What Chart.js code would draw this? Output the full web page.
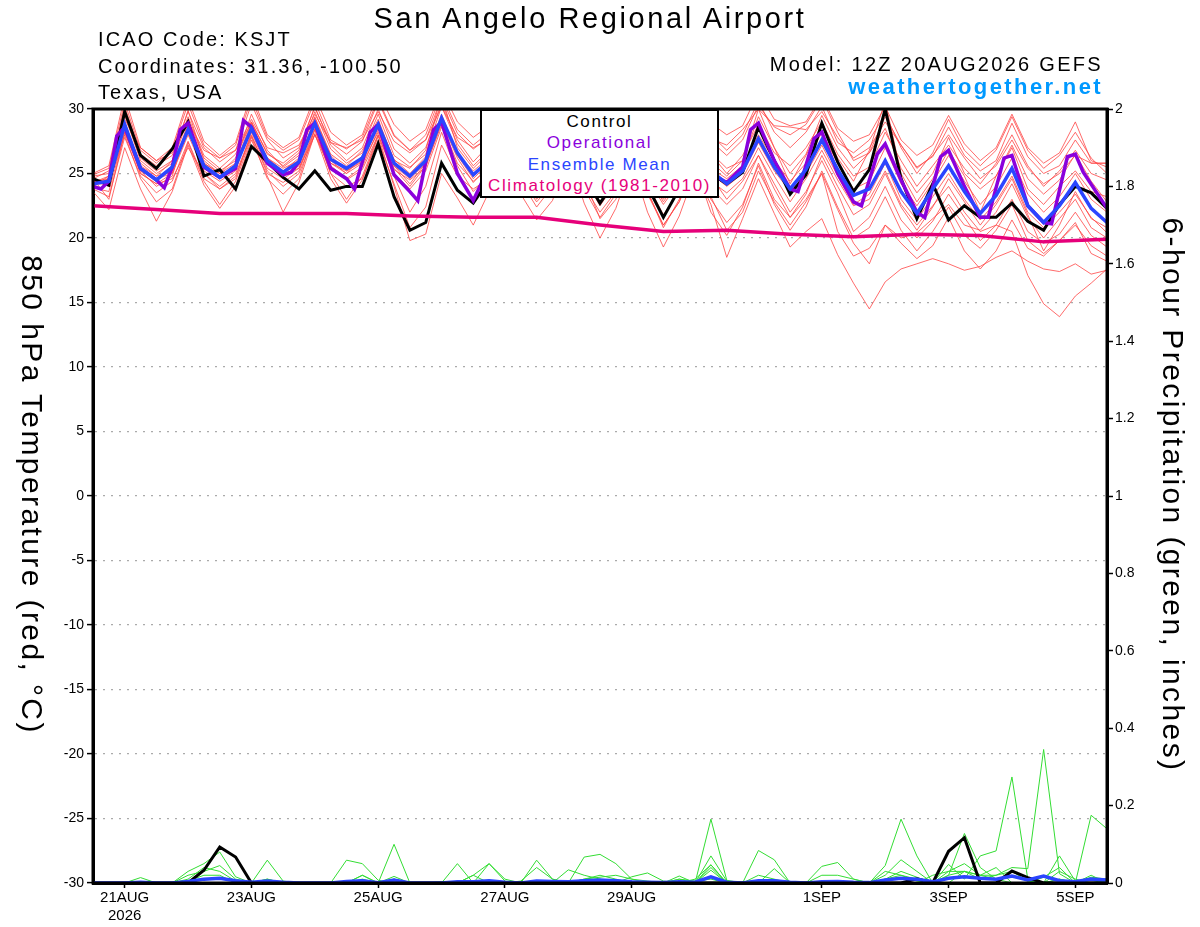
<!DOCTYPE html>
<html>
<head>
<meta charset="utf-8">
<script src="https://cdn.jsdelivr.net/npm/chart.js@4.4.1/dist/chart.umd.min.js"></script>
<style>
  body { margin: 0; background: #fff; }
  #wrap { position: relative; width: 1200px; height: 927px; font-family: 'Liberation Sans', Arial, Helvetica, sans-serif; color: #000; }
  #chart { position: absolute; left: 0; top: 0; }
  .txt { position: absolute; white-space: nowrap; }
  #title { left: 290px; width: 600px; top: 4px; font-size: 29px; line-height: 29px; letter-spacing: 2.6px; text-align: center; }
  #station { left: 98px; top: 26px; font-size: 20px; line-height: 26.6px; letter-spacing: 2.1px; }
  #model { right: 97px; top: 54px; font-size: 20px; line-height: 20px; letter-spacing: 2.3px; text-align: right; }
  #site { right: 97px; top: 76px; font-size: 22px; line-height: 22px; letter-spacing: 2.4px; font-weight: bold; color: #0099ff; text-align: right; }
  #legend { position: absolute; left: 480px; top: 109px; width: 239px; height: 89px; box-sizing: border-box; border: 2px solid #000; background: #fff; text-align: center; font-size: 17px; line-height: 21.4px; letter-spacing: 1.6px; }
  .ytitle { position: absolute; width: 600px; height: 30px; font-size: 30px; line-height: 30px; letter-spacing: 2.4px; text-align: center; white-space: nowrap; transform: rotate(90deg); transform-origin: 50% 50%; }
</style>
</head>
<body>
<div id="wrap">
  <canvas id="chart" width="1200" height="927"></canvas>
  <div class="txt" id="title">San Angelo Regional Airport</div>
  <div class="txt" id="station">ICAO Code: KSJT<br>Coordinates: 31.36, -100.50<br>Texas, USA</div>
  <div class="txt" id="model">Model: 12Z 20AUG2026 GEFS</div>
  <div class="txt" id="site">weathertogether.net</div>
  <div id="legend">
    <div style="color:#000">Control</div>
    <div style="color:#8a00dc">Operational</div>
    <div style="color:#2b45ff">Ensemble Mean</div>
    <div style="color:#e6007a">Climatology (1981-2010)</div>
  </div>
  <div class="ytitle" style="left:-268px; top:480px;">850 hPa Temperature (red, °C)</div>
  <div class="ytitle" style="left:873px; top:480px;">6-hour Precipitation (green, inches)</div>
</div>
<script>
// forecast hours after 12Z 20AUG2026 (6-hourly)
const hours = [0,6,12,18,24,30,36,42,48,54,60,66,72,78,84,90,96,102,108,114,120,126,132,138,144,150,156,162,168,174,180,186,192,198,204,210,216,222,228,234,240,246,252,258,264,270,276,282,288,294,300,306,312,318,324,330,336,342,348,354,360,366,372,378,384];

// x axis day labels (00Z of each labelled day)
const tickHours = [12, 60, 108, 156, 204, 276, 324, 372];
const tickLabels = [['21AUG', '2026'], '23AUG', '25AUG', '27AUG', '29AUG', '1SEP', '3SEP', '5SEP'];

// 850 hPa temperature, deg C
const controlTemp = [24.6,24.1,29.8,26.4, 25.4,26.9,29.0,24.8, 25.3,23.8,27.1,25.9, 24.7,23.8,25.2,23.7, 24.0,24.0,27.3,23.2, 20.6,21.2,25.8,23.7, 22.7,24.5,27.8,25.0, 23.5,24.5,27.5,24.8, 22.7,24.5,27.2,24.0, 21.6,23.8,27.5,25.0, 24.2,25.1,28.6,26.0, 23.4,24.9,28.9,25.9, 23.6,25.3,30.0,24.6, 21.5,24.2,21.4,22.5, 21.6,21.6,22.7,21.3, 20.6,22.6,24.0,23.5, 22.3];
const meanTemp = [24.2,24.4,28.8,25.4, 24.5,25.5,28.4,25.6, 24.7,25.6,28.5,26.0, 25.1,25.9,28.9,26.1, 25.4,26.2,28.8,25.8, 24.8,26.0,29.3,26.6, 24.9,26.0,28.6,26.0, 24.5,25.5,28.6,25.8, 24.0,25.5,28.2,25.3, 23.5,25.0,27.8,25.2, 24.2,25.2,27.7,25.5, 23.8,25.3,27.6,25.3, 23.3,23.8,26.0,23.6, 21.9,23.8,25.6,23.6, 21.9,23.3,25.4,22.5, 21.2,22.5,24.3,22.3, 21.2];

// operational run (3-hourly where visible)
const opHours = [0,3,6,9,12,18,24,27,30,33,36,42,48,54,57,60,66,72,75,78,81,84,90,96,99,102,105,108,114,120,123,126,129,132,138,144,150,153,156,162,168,174,177,180,186,192,198,201,204,210,216,222,225,228,234,240,246,249,252,258,264,267,273,276,282,288,291,297,300,306,312,315,321,324,330,336,339,345,348,354,360,363,369,372,375,384];
const opTemp = [24.0,23.8,24.4,27.9,28.6,25.4,24.5,23.9,25.5,28.4,28.9,25.5,24.7,25.4,29.1,28.6,25.8,24.9,25.1,25.9,28.4,28.9,25.4,24.6,23.8,25.9,28.2,28.8,24.9,23.6,22.9,25.9,28.4,29.0,25.0,22.9,25.5,28.5,29.2,26.0,24.2,25.5,29.0,30.0,26.0,24.0,25.5,28.0,28.8,25.0,23.5,25.0,27.5,28.0,25.0,24.3,25.5,28.4,28.9,26.0,23.8,23.6,27.7,28.2,25.0,22.8,22.5,26.5,27.3,24.5,22.0,21.6,26.3,26.8,24.0,21.6,21.6,26.2,26.4,22.5,21.2,21.1,26.3,26.5,25.1,22.3];

// 1981-2010 climatology (daily)
const climHours = [0,24,48,72,96,120,144,168,192,216,240,264,288,312,336,360,384];
const climTemp = [22.5,22.2,21.9,21.9,21.9,21.7,21.6,21.6,21.0,20.5,20.6,20.3,20.1,20.3,20.2,19.7,19.9];

// ensemble members
const member01 = [24.8,25.0,30.2,26.5, 25.6,26.4,29.8,27.0, 25.9,26.8,30.4,27.6, 26.2,27.0,30.1,27.4, 26.5,27.5,30.6,27.9, 26.8,27.6,30.9,28.1, 26.9,27.8,31.0,28.3, 26.6,27.2,30.5,28.0, 26.1,27.0,30.2,27.6, 25.8,26.9,29.9,27.5, 26.4,27.6,30.3,28.6, 28.0,28.8,30.8,28.2, 26.0,26.6,29.4,27.2, 25.5,26.3,28.6,26.4, 25.2,26.0,28.9,26.3, 25.0,25.6,27.6,25.8, 25.8];
const member02 = [23.6,22.2,27.0,23.8, 21.3,23.6,27.2,24.1, 22.3,24.0,27.6,24.8, 22.0,24.3,28.1,24.6, 22.7,24.5,27.9,24.0, 19.8,20.3,25.0,23.1, 21.0,23.6,26.8,23.4, 21.4,22.9,26.5,22.7, 20.0,22.3,25.9,22.0, 19.3,21.7,25.1,22.6, 18.5,21.5,24.6,21.9, 19.3,20.5,21.5,18.7, 16.5,14.5,16.6,17.6, 18.0,18.4,18.0,17.5, 17.8,18.5,19.0,18.2, 17.6,17.4,18.0,17.2, 17.5];
const member03 = [24.0,24.6,28.5,25.0, 24.2,25.0,28.0,25.2, 24.4,25.2,28.8,25.7, 25.0,25.4,28.5,25.8, 25.0,25.8,28.2,25.3, 24.5,25.5,29.0,26.2, 24.3,25.6,28.0,25.5, 24.0,25.0,28.0,25.0, 23.4,24.8,27.5,24.6, 22.6,24.3,27.0,24.4, 23.5,24.6,27.0,24.8, 22.8,24.6,26.8,24.5, 22.5,23.0,25.2,22.6, 21.0,22.5,24.0,22.0, 20.5,21.0,20.5,17.1, 14.9,13.9,15.5,16.5, 17.6];
const member04 = [24.5,24.0,29.5,26.0, 25.0,25.8,29.2,26.2, 25.2,26.0,29.6,26.8, 25.5,26.4,29.8,26.9, 25.8,26.6,29.6,26.4, 25.5,26.5,30.2,27.3, 25.6,26.8,29.8,26.8, 25.3,26.3,29.7,26.8, 24.9,26.4,29.3,26.4, 24.6,26.0,29.0,26.6, 25.4,26.0,29.4,27.0, 25.0,26.5,29.5,27.0, 25.4,26.6,28.5,25.4, 23.5,25.0,27.8,25.0, 23.8,24.8,27.2,24.6, 23.4,24.5,26.5,24.4, 22.8];
const member05 = [23.8,23.2,27.8,24.8, 23.5,24.4,27.5,24.6, 23.8,24.8,27.9,25.2, 24.0,25.0,28.0,25.3, 24.5,25.3,28.0,25.0, 23.8,25.2,28.6,25.6, 23.6,24.9,27.8,25.2, 23.0,24.5,27.4,24.6, 22.5,24.3,27.2,24.2, 21.8,23.6,26.6,23.9, 22.6,23.8,26.4,24.2, 22.0,23.6,26.0,23.5, 20.5,21.6,24.0,21.4, 20.0,21.3,23.4,21.6, 19.8,21.0,23.0,20.5, 19.6,20.3,22.0,20.2, 19.3];
const member06 = [25.0,25.6,31.0,27.0, 26.0,27.0,30.8,27.5, 26.4,27.4,31.2,28.0, 27.0,27.8,31.0,28.2, 27.2,28.0,31.3,28.8, 27.5,28.4,31.5,29.0, 27.8,28.7,31.4,29.0, 27.2,28.6,31.2,28.8, 27.0,28.5,31.0,28.6, 27.3,28.8,31.0,28.9, 28.0,28.7,31.3,29.2, 28.7,29.0,31.0,28.5, 27.5,28.0,30.2,27.6, 26.4,27.2,29.5,27.3, 26.0,27.0,29.6,27.0, 25.8,26.6,29.0,26.0, 25.5];
const member07 = [24.3,24.8,29.0,25.6, 24.8,25.2,28.6,25.4, 24.6,25.6,28.4,26.2, 25.4,26.0,29.3,26.4, 25.2,26.0,29.0,26.1, 25.0,26.3,29.6,26.5, 25.2,26.2,28.9,26.3, 24.8,25.8,28.8,26.1, 24.2,25.7,28.5,25.6, 23.6,25.2,28.0,25.4, 24.6,25.6,28.0,26.0, 24.4,25.8,28.2,25.8, 23.8,24.4,27.0,24.2, 22.5,24.3,26.4,24.4, 22.6,24.0,26.2,23.4, 22.0,23.2,25.0,23.0, 22.0];
const member08 = [24.6,23.0,28.2,25.2, 24.0,24.8,28.8,25.0, 24.0,25.0,28.0,25.0, 24.3,25.2,28.4,25.0, 24.0,24.6,27.6,24.2, 20.8,22.4,27.2,24.8, 23.8,24.6,27.4,24.4, 22.4,24.0,27.0,24.0, 22.0,23.6,26.8,23.6, 21.0,22.8,26.0,23.2, 20.6,22.0,25.2,22.8, 21.0,22.8,25.0,22.2, 19.6,18.0,21.0,20.0, 20.4,21.5,22.6,21.0, 20.6,22.0,24.2,21.6, 20.0,21.5,23.0,20.8, 20.0];
const member09 = [24.0,24.8,28.6,25.8, 24.8,26.0,29.4,26.4, 25.4,26.5,29.0,26.5, 25.8,26.8,30.2,27.2, 26.0,27.0,30.0,26.9, 25.8,27.0,30.5,27.6, 25.9,27.2,30.0,27.2, 25.5,26.8,29.6,26.4, 25.0,26.6,29.8,26.8, 25.0,26.6,29.2,26.5, 25.0,26.4,28.8,26.6, 25.6,27.0,29.0,26.5, 24.8,25.5,28.2,26.0, 24.0,25.6,27.2,25.4, 24.2,25.8,28.0,25.6, 24.0,25.2,26.8,25.0, 24.5];
const member10 = [24.2,24.2,28.0,24.6, 22.8,23.8,27.4,24.4, 22.6,24.4,27.8,24.6, 23.4,24.6,28.4,25.0, 23.0,24.8,28.0,24.8, 22.0,24.0,28.2,25.0, 22.8,24.4,27.6,24.6, 22.8,24.2,27.0,23.8, 21.6,23.4,26.6,23.6, 20.8,23.0,26.0,23.0, 21.2,22.6,25.6,22.6, 20.6,22.4,25.2,22.4, 20.0,20.8,23.2,20.6, 19.0,20.5,22.4,20.2, 19.2,20.6,22.6,19.8, 18.8,19.8,21.0,19.4, 18.6];
const member11 = [24.4,24.6,29.2,27.0, 26.0,26.6,29.0,26.8, 26.2,26.8,29.2,27.0, 26.6,27.2,29.6,27.4, 27.0,27.6,29.8,27.5, 26.6,27.6,30.2,27.8, 27.0,27.7,29.6,27.4, 26.0,27.2,29.8,27.5, 26.4,27.5,30.0,27.8, 26.8,27.6,29.6,27.7, 27.2,28.4,30.0,28.7, 28.6,28.4,29.8,27.8, 26.2,27.0,29.0,27.2, 25.4,26.4,28.0,26.2, 24.6,25.6,27.6,25.4, 24.2,25.0,26.4,25.8, 25.8];
const member12 = [23.9,23.6,28.2,25.0, 24.2,24.6,27.0,25.0, 23.8,24.6,28.2,25.4, 24.6,25.4,28.0,25.6, 24.6,25.5,28.4,25.4, 24.0,25.6,28.8,25.8, 24.4,25.4,28.2,25.6, 23.8,25.0,28.2,25.4, 23.2,25.0,27.6,25.0, 22.8,24.6,27.4,24.8, 23.0,24.4,26.4,23.8, 21.6,23.4,26.4,24.0, 21.8,22.6,25.0,22.4, 20.6,22.4,24.6,22.8, 21.0,22.6,24.6,21.8, 19.0,21.0,23.6,21.5, 20.8];
const member13 = [24.6,25.2,29.8,26.2, 25.2,26.0,29.9,26.0, 25.0,26.2,29.0,26.6, 25.6,26.6,29.4,26.5, 25.6,26.8,29.2,26.0, 25.4,26.8,31.0,27.0, 25.4,26.6,29.4,26.6, 25.0,26.4,29.4,26.4, 24.6,26.0,29.0,25.8, 24.0,25.4,28.6,25.9, 24.8,26.0,30.0,27.0, 24.2,26.4,28.8,26.2, 24.4,26.8,30.6,25.0, 22.8,24.6,26.8,24.8, 22.0,24.8,27.0,23.8, 22.6,24.0,25.2,23.6, 23.2];
const member14 = [24.4,24.2,28.4,25.2, 24.6,25.2,28.2,25.8, 25.0,25.8,28.9,26.2, 25.2,26.2,29.0,26.0, 25.0,26.4,28.6,25.6, 24.2,25.8,29.4,26.4, 25.0,26.0,28.6,25.6, 23.6,25.2,27.8,24.6, 21.5,23.0,26.2,23.4, 21.0,22.8,25.6,22.0, 20.2,22.4,25.8,23.0, 21.6,23.0,25.0,20.5, 18.6,19.2,21.0,19.6, 18.4,19.4,21.6,19.0, 17.6,19.0,21.4,19.2, 18.6,19.8,21.2,18.8, 18.2];
const member15 = [24.9,25.4,30.5,26.8, 25.8,26.8,30.4,27.2, 26.2,27.2,30.8,27.8, 26.8,27.6,30.6,27.6, 26.9,27.8,30.8,28.0, 26.8,28.0,31.2,28.4, 27.2,28.2,30.8,28.2, 27.0,28.0,30.9,28.4, 27.4,28.4,30.4,27.6, 26.0,27.6,30.2,28.0, 26.8,28.0,30.6,28.2, 27.0,28.2,30.2,27.4, 26.6,27.6,29.6,27.0, 25.0,26.6,29.2,26.8, 25.6,26.8,29.4,26.8, 25.4,26.4,28.2,26.2, 25.0];
const member16 = [24.1,24.6,29.0,25.4, 24.6,25.0,29.0,25.8, 25.0,25.4,28.6,25.8, 24.8,25.6,28.8,25.8, 25.2,25.9,28.6,25.6, 24.6,25.8,29.2,26.4, 24.6,25.8,28.4,25.8, 24.2,25.4,28.6,25.6, 23.8,25.2,28.0,25.0, 23.0,24.8,27.6,25.0, 24.0,25.0,27.4,25.2, 23.6,25.0,27.2,24.8, 22.6,23.4,25.8,23.0, 21.4,23.2,25.0,23.0, 21.4,22.8,24.8,22.0, 20.8,22.0,23.4,21.6, 20.4];
const members = [member01, member02, member03, member04, member05, member06, member07, member08, member09, member10, member11, member12, member13, member14, member15, member16];

// 6-hour precipitation, inches
const controlPrecip = [0,0,0,0, 0,0,0,0.033, 0.093,0.067,0,0, 0,0,0,0, 0,0,0,0, 0,0,0,0, 0,0,0,0, 0,0,0,0, 0,0,0,0, 0,0,0,0, 0,0,0,0, 0,0,0,0, 0,0,0,0, 0.011,0,0.082,0.117, 0,0,0.031,0.014, 0,0,0,0, 0];
const meanPrecip = [0,0,0,0.002, 0,0,0.004,0.01, 0.012,0.006,0.002,0.005, 0.002,0,0,0, 0.004,0.006,0.001,0.008, 0,0,0,0.003, 0.003,0.006,0.002,0, 0.005,0.004,0.003,0.006, 0.008,0.006,0.003,0.002, 0.001,0.003,0.002,0.016, 0.002,0,0.006,0.006, 0.002,0,0.003,0.004, 0.002,0.001,0.008,0.012, 0.01,0.003,0.012,0.016, 0.012,0.01,0.018,0.008, 0.018,0.006,0.003,0.01, 0.008];
const precip01 = [0,0,0,0.014, 0,0,0.03,0.05, 0.08,0.016,0,0, 0,0,0,0, 0,0,0,0.017, 0,0,0,0, 0,0,0,0, 0.059,0.01,0,0, 0,0,0,0, 0,0,0,0.07, 0.005,0,0,0, 0,0,0,0, 0,0,0,0, 0,0,0.02,0.128, 0.04,0.01,0,0, 0,0.07,0.005,0, 0];
const precip02 = [0,0,0,0, 0,0,0.01,0.04, 0.03,0.005,0,0.059, 0.005,0,0,0, 0,0.02,0,0, 0,0,0,0, 0,0,0,0.005, 0.04,0.01,0,0, 0,0,0.016,0.026, 0.005,0,0,0.033, 0,0,0.084,0.06, 0,0,0,0, 0,0,0.01,0.03, 0.015,0,0,0.03, 0.02,0.01,0.015,0.01, 0,0.01,0,0.01, 0.005];
const precip03 = [0,0,0,0, 0,0,0.02,0.03, 0.045,0.01,0,0.01, 0,0,0,0, 0.059,0.05,0.007,0, 0,0,0,0, 0,0,0,0, 0,0,0.034,0.02, 0.01,0,0,0, 0,0.01,0,0.047, 0,0,0,0.037, 0,0,0.043,0.053, 0.01,0,0.02,0.06, 0.03,0,0.048,0.01, 0.07,0.083,0.274,0.01, 0,0.03,0.01,0, 0.01];
const precip04 = [0,0,0,0, 0,0,0,0, 0,0,0,0, 0,0,0,0, 0,0.02,0,0.1, 0,0,0,0, 0,0,0,0, 0,0,0,0.067, 0.074,0.05,0.01,0, 0,0,0,0.165, 0.007,0,0,0, 0,0,0,0, 0,0,0.045,0.165, 0.07,0,0,0, 0,0,0,0, 0,0,0,0.02, 0];
const precip05 = [0,0,0,0, 0,0,0,0, 0,0,0,0, 0,0,0,0, 0,0,0,0.01, 0,0,0,0.05, 0,0.05,0.01,0, 0,0,0,0.01, 0.02,0.01,0,0, 0,0,0.01,0.047, 0,0,0,0, 0,0,0,0, 0,0,0,0, 0,0.02,0.03,0.05, 0.02,0.02,0.04,0.037, 0.345,0.024,0,0.01, 0];
const precip06 = [0,0,0,0, 0,0,0,0, 0,0,0,0, 0,0,0,0, 0,0,0,0, 0,0,0,0, 0.02,0.05,0.005,0, 0,0,0,0, 0,0,0,0, 0,0.018,0,0.04, 0,0,0,0, 0,0,0,0, 0,0,0.03,0.02, 0.01,0,0.03,0.03, 0.02,0.04,0,0, 0.015,0.04,0,0.175, 0.14];
const precip07 = [0,0,0,0, 0,0,0.005,0.02, 0.02,0,0,0.01, 0,0,0,0, 0,0.01,0,0.01, 0,0,0.003,0, 0.02,0,0,0, 0,0.005,0,0.01, 0.015,0.02,0.01,0.005, 0,0.01,0.005,0.01, 0,0,0.02,0.01, 0,0,0.02,0.02, 0.01,0,0.01,0.02, 0.005,0,0.02,0.03, 0.01,0.02,0.03,0.005, 0,0.01,0,0.015, 0.01];
const precipMembers = [precip01, precip02, precip03, precip04, precip05, precip06, precip07];

const pts = (xs, ys) => xs.map((x, i) => ({ x: x, y: ys[i] }));

const datasets = [];
members.forEach((m, k) => datasets.push({
  label: 'member' + (k + 1), data: pts(hours, m), yAxisID: 'y',
  borderColor: 'rgba(255,70,70,0.8)', borderWidth: 1, order: 9
}));
precipMembers.forEach((m, k) => datasets.push({
  label: 'precip' + (k + 1), data: pts(hours, m), yAxisID: 'y2',
  borderColor: '#33dd33', borderWidth: 1, order: 8
}));
datasets.push({ label: 'Control precip', data: pts(hours, controlPrecip), yAxisID: 'y2', borderColor: '#000', borderWidth: 3, order: 6 });
datasets.push({ label: 'Mean precip', data: pts(hours, meanPrecip), yAxisID: 'y2', borderColor: '#2b45ff', borderWidth: 3.5, order: 5 });
datasets.push({ label: 'Control', data: pts(hours, controlTemp), yAxisID: 'y', borderColor: '#000', borderWidth: 3, order: 4 });
datasets.push({ label: 'Operational', data: pts(opHours, opTemp), yAxisID: 'y', borderColor: '#8a00dc', borderWidth: 3.5, order: 3 });
datasets.push({ label: 'Ensemble Mean', data: pts(hours, meanTemp), yAxisID: 'y', borderColor: '#2b45ff', borderWidth: 3.5, order: 2 });
datasets.push({ label: 'Climatology', data: pts(climHours, climTemp), yAxisID: 'y', borderColor: '#e6007a', borderWidth: 3.5, order: 1 });

// thick frame round the plot area
const frame = {
  id: 'frame',
  afterDatasetsDraw(chart) {
    const { ctx, chartArea: a } = chart;
    ctx.save();
    ctx.strokeStyle = '#000';
    ctx.lineWidth = 3;
    ctx.strokeRect(a.left, a.top, a.right - a.left, a.bottom - a.top);
    ctx.restore();
  }
};

Chart.defaults.font.family = "'Liberation Sans', Arial, Helvetica, sans-serif";
Chart.defaults.color = '#000';

new Chart(document.getElementById('chart').getContext('2d'), {
  type: 'line',
  data: { datasets: datasets },
  options: {
    responsive: false,
    animation: false,
    devicePixelRatio: 1,
    layout: { padding: { top: 109, left: 0, right: 0, bottom: 0 } },
    plugins: { legend: { display: false }, tooltip: { enabled: false } },
    elements: { point: { radius: 0 }, line: { tension: 0 } },
    scales: {
      x: {
        type: 'linear', min: 0, max: 384,
        afterFit: (s) => { s.height = 44; },
        afterBuildTicks: (s) => { s.ticks = tickHours.map(v => ({ value: v })); },
        ticks: {
          autoSkip: false, maxRotation: 0, padding: 1,
          font: { size: 15 },
          callback: (v) => tickLabels[tickHours.indexOf(v)]
        },
        grid: { drawOnChartArea: false, tickLength: 5, tickColor: '#000', tickWidth: 1.5 },
        border: { color: '#000', width: 3 }
      },
      y: {
        position: 'left', min: -30, max: 30,
        afterFit: (s) => { s.width = 93; },
        ticks: { stepSize: 5, padding: 3, font: { size: 14 } },
        grid: { color: '#aaaaaa', lineWidth: 1.2, tickLength: 6, tickColor: '#000', tickWidth: 1.5 },
        border: { color: '#000', width: 3, dash: [2, 6] }
      },
      y2: {
        position: 'right', min: 0, max: 2,
        afterFit: (s) => { s.width = 93; },
        ticks: { stepSize: 0.2, padding: 2, font: { size: 14 }, callback: (v) => String(Math.round(v * 10) / 10) },
        grid: { drawOnChartArea: false, tickLength: 6, tickColor: '#000', tickWidth: 1.5 },
        border: { color: '#000', width: 3 }
      }
    }
  },
  plugins: [frame]
});
</script>
</body>
</html>
